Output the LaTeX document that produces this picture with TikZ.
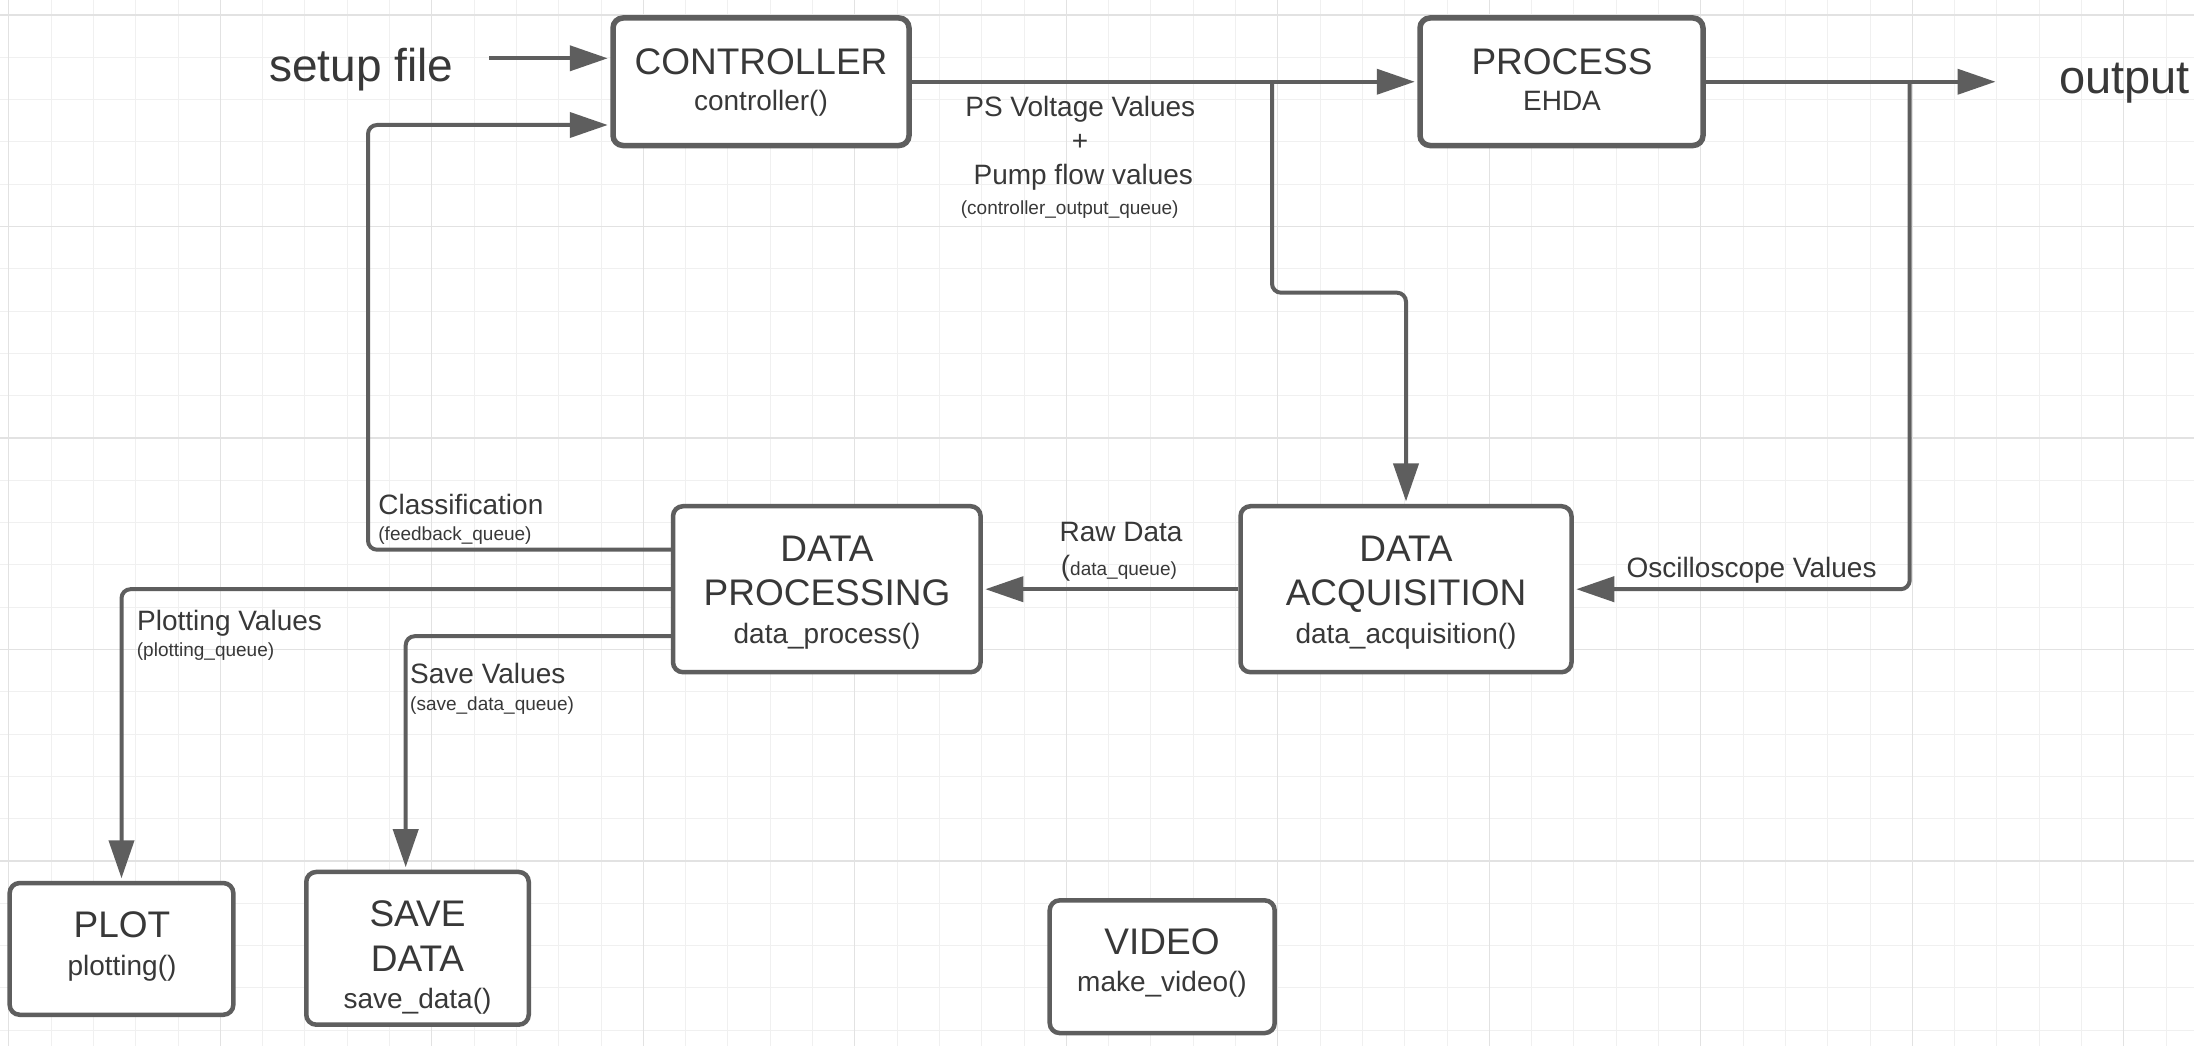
\documentclass[tikz,border=0pt]{standalone}
\usepackage{fontspec}
\setmainfont{Liberation Sans}
\usetikzlibrary{arrows.meta}
\definecolor{lc}{HTML}{5E5E5E}
\definecolor{tc}{HTML}{383838}
\definecolor{gminor}{HTML}{F0F0F0}
\definecolor{gmajor}{HTML}{E2E2E2}
\begin{document}
\begin{tikzpicture}[x=1pt,y=-1pt,
  box/.style={draw=lc, fill=white, line width=4.5pt, rounded corners=10pt, inner sep=0pt},
  topbox/.style={box, line width=5.5pt},
  conn/.style={draw=lc, line width=4pt, rounded corners=9pt, -{Triangle[length=38pt,width=25pt]}, shorten >=2.5pt},
  title/.style={anchor=base, inner sep=0pt, text=tc, font=\fontsize{37}{40}\selectfont},
  sub/.style={anchor=base, inner sep=0pt, text=tc, font=\fontsize{28}{32}\selectfont},
  subsmall/.style={anchor=base, inner sep=0pt, text=tc, font=\fontsize{19}{22}\selectfont},
  lab/.style={anchor=base west, inner sep=0pt, text=tc, font=\fontsize{28}{32}\selectfont},
  smalllab/.style={anchor=base west, inner sep=0pt, text=tc, font=\fontsize{19}{22}\selectfont},
  biglab/.style={anchor=base west, inner sep=0pt, text=tc, font=\fontsize{46}{50}\selectfont},
]
\useasboundingbox (0,0) rectangle (2194,1046);
\fill[white] (0,0) rectangle (2194,1046);
% grid
\foreach \i in {0,...,51} {
  \pgfmathsetmacro\xx{8.8+42.3*\i}
  \draw[gminor, line width=1pt] (\xx,0) -- (\xx,1046);
}
\foreach \i in {0,...,24} {
  \pgfmathsetmacro\yy{15+42.3*\i}
  \draw[gminor, line width=1pt] (0,\yy) -- (2194,\yy);
}
\foreach \i in {0,5,...,50} {
  \pgfmathsetmacro\xx{8.8+42.3*\i}
  \draw[gmajor, line width=1.1pt] (\xx,0) -- (\xx,1046);
}
\foreach \i in {0,5,...,20} {
  \pgfmathsetmacro\yy{15+42.3*\i}
  \draw[gmajor, line width=1.1pt] (0,\yy) -- (2194,\yy);
}

% boxes
\node[topbox, minimum width=296pt, minimum height=127.5pt] (ctrl) at (761,81.75) {};
\node[topbox, minimum width=283pt, minimum height=127.5pt] (proc) at (1561.5,81.75) {};
\node[box, minimum width=307.6pt, minimum height=166pt] (dp) at (826.8,589.2) {};
\node[box, minimum width=331pt, minimum height=166pt] (da) at (1406,589.2) {};
\node[box, minimum width=223.7pt, minimum height=131.7pt] (plot) at (121.5,948.9) {};
\node[box, minimum width=222.5pt, minimum height=152.7pt] (save) at (417.5,948.3) {};
\node[box, minimum width=225pt, minimum height=132.7pt] (video) at (1162.2,966.7) {};

% box texts
\node[title] (ctrlA) at (761,74.5) {CONTROLLER};
\node[sub] (ctrlB) at (761,111) {controller()};
\node[title] (procA) at (1562,74.5) {PROCESS};
\node[sub] (procB) at (1562,111) {EHDA};
\node[title] (dpA) at (827,561) {DATA};
\node[title] (dpB) at (827,605) {PROCESSING};
\node[sub] (dpC) at (827,643) {data\_process()};
\node[title] (daA) at (1406,561) {DATA};
\node[title] (daB) at (1406,605) {ACQUISITION};
\node[sub] (daC) at (1406,643) {data\_acquisition()};
\node[title] (plotA) at (122,937.7) {PLOT};
\node[sub] (plotB) at (122,975) {plotting()};
\node[title] (saveA) at (417.5,926.7) {SAVE};
\node[title] (saveB) at (417.5,971.7) {DATA};
\node[sub] (saveC) at (417.5,1008.3) {save\_data()};
\node[title] (videoA) at (1162,954) {VIDEO};
\node[sub] (videoB) at (1162,991.7) {make\_video()};

% free labels
\node[biglab] (setup) at (269,81.7) {setup file};
\node[anchor=base west, inner sep=0pt, text=tc, font=\fontsize{47}{50}\selectfont] (output) at (2059,93.3) {output};

% coordinates
\coordinate (setupS) at (489,58.3);
\coordinate (fbc) at (368,125);
\coordinate (outT) at (1998,81.75);
\coordinate (br1) at (1272,81.75);
\coordinate (brc) at (1406,292.7);
\coordinate (osc1) at (1909.7,81.75);

% connectors
\draw[conn] (setupS) -- (setupS -| ctrl.west);
\draw[conn] ([yshift=39.5pt]dp.west) -| (fbc) -- (fbc -| ctrl.west);
\draw[conn] (ctrl.east) -- (proc.west);
\draw[conn] (proc.east) -- (outT);
\draw[conn] (br1) |- (brc) -- (da.north);
\draw[conn] (osc1) |- (da.east);
\draw[conn] (da.west) -- (dp.east);
\draw[conn] (dp.west) -| (plot.north);
\draw[conn] ([yshift=-47pt]dp.west) -| ([xshift=-11.8pt]save.north);

% connector labels
\node[sub] (lps) at (1080.3,116.7) {PS Voltage Values};
\node[sub] (lplus) at (1080,150.5) {+};
\node[sub] (lpump) at (1083.3,184) {Pump flow values};
\node[subsmall] (lcoq) at (1069.7,214) {(controller\_output\_queue)};
\node[lab] (lcls) at (378.2,514) {Classification};
\node[smalllab] (lfbq) at (378.2,540) {(feedback\_queue)};
\node[sub] (lraw) at (1121,541.7) {Raw Data};
\node[lab] (ldq) at (1060.7,575) {({\fontsize{19}{22}\selectfont data\_queue)}};
\node[lab] (losc) at (1626.3,577.7) {Oscilloscope Values};
\node[lab] (lplt) at (137,630.7) {Plotting Values};
\node[smalllab] (lpq) at (136.7,656.7) {(plotting\_queue)};
\node[lab] (lsv) at (410,683.3) {Save Values};
\node[smalllab] (lsq) at (410,710) {(save\_data\_queue)};
\end{tikzpicture}
\end{document}
